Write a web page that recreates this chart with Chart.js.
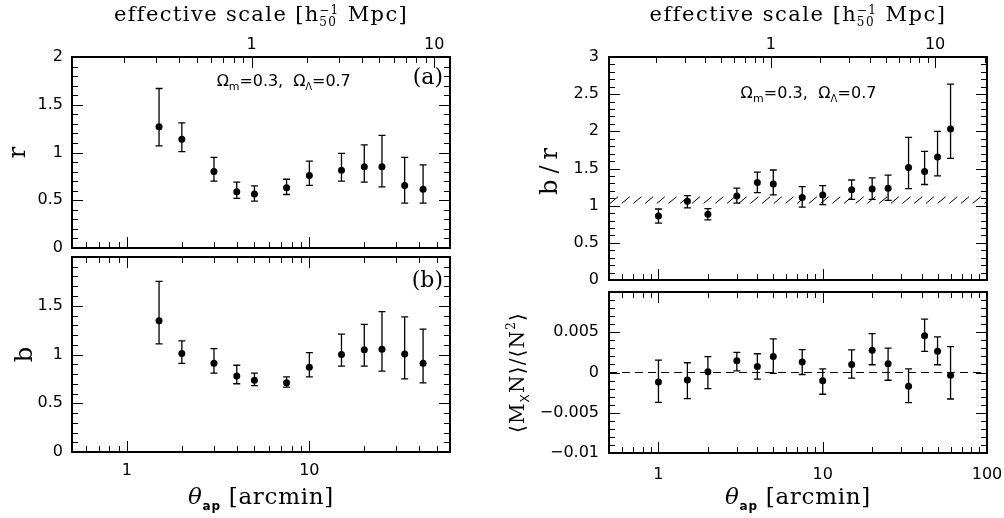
<!DOCTYPE html>
<html>
<head>
<meta charset="utf-8">
<script src="https://cdn.jsdelivr.net/npm/chart.js@4.4.1/dist/chart.umd.min.js"></script>
<style>
  body { margin: 0; background: #fff; width: 1004px; height: 518px; position: relative; overflow: hidden; }
  canvas { position: absolute; }
</style>
</head>
<body>
<canvas id="cTL" width="470" height="252" style="left:0;top:0"></canvas>
<canvas id="cBL" width="470" height="266" style="left:0;top:252px"></canvas>
<canvas id="cTR" width="504" height="284" style="left:500px;top:0"></canvas>
<canvas id="cBR" width="504" height="234" style="left:500px;top:284px"></canvas>
<script>
// aperture radii [arcmin]
const thetaL = [1.5, 2, 3, 4, 5, 7.5, 10, 15, 20, 25, 33.3, 42]
const thetaR = [1, 1.5, 2, 3, 4, 5, 7.5, 10, 15, 20, 25, 33.3, 41.7, 50, 60]

// (a) correlation coefficient r
const rVal = [1.27, 1.14, 0.80, 0.59, 0.565, 0.63, 0.76, 0.815, 0.85, 0.85, 0.655, 0.615]
const rLo  = [1.07, 1.01, 0.70, 0.52, 0.49, 0.56, 0.655, 0.70, 0.69, 0.64, 0.47, 0.47]
const rHi  = [1.67, 1.31, 0.95, 0.69, 0.65, 0.72, 0.91, 0.99, 1.08, 1.18, 0.95, 0.87]

// (b) bias b
const bVal = [1.345, 1.01, 0.91, 0.78, 0.735, 0.71, 0.87, 1.0, 1.05, 1.055, 1.005, 0.91]
const bLo  = [1.11, 0.91, 0.81, 0.70, 0.68, 0.665, 0.77, 0.88, 0.88, 0.83, 0.75, 0.71]
const bHi  = [1.75, 1.14, 1.06, 0.89, 0.81, 0.77, 1.02, 1.21, 1.31, 1.44, 1.385, 1.26]

// b/r
const brVal = [0.86, 1.06, 0.885, 1.13, 1.31, 1.29, 1.11, 1.145, 1.215, 1.225, 1.235, 1.515, 1.46, 1.655, 2.03]
const brLo  = [0.765, 0.97, 0.81, 1.035, 1.175, 1.145, 0.98, 1.015, 1.085, 1.085, 1.07, 1.23, 1.285, 1.40, 1.635]
const brHi  = [0.955, 1.135, 0.96, 1.235, 1.45, 1.48, 1.255, 1.27, 1.345, 1.375, 1.41, 1.92, 1.73, 2.0, 2.635]

// <M_x N>/<N^2>
const mxVal = [-0.00117, -0.00092, 0.00008, 0.00146, 0.00075, 0.002, 0.00129, -0.00104, 0.001, 0.00275, 0.00108, -0.0017, 0.00458, 0.00263, -0.00033]
const mxLo  = [-0.0037, -0.00325, -0.002, 0.0002, -0.00083, -0.0001, -0.00025, -0.0027, -0.0007, 0.00096, -0.00096, -0.00375, 0.00263, 0.00096, -0.00329]
const mxHi  = [0.00154, 0.00121, 0.00196, 0.0025, 0.00233, 0.00417, 0.00283, 0.00046, 0.0028, 0.00483, 0.00304, 0.00046, 0.00663, 0.00442, 0.00321]

const xRangeL = [0.5, 59]
const xRangeR = [0.5, 100]
const arcminPerMpc = 4.83      // top axis: effective scale = theta / 4.83
const band = [1.03, 1.12]      // hatched b/r band

const SERIF = '"DejaVu Serif", serif'
const SANS = '"DejaVu Sans", sans-serif'
const tickFont = { family: 'DejaVu Sans', size: 16 }

function fmt(v) {
  if (Math.abs(v) < 1e-12) return '0'
  return (v < 0 ? '\u2212' : '') + String(+Math.abs(v).toFixed(4))
}

function logTicks(min, max) {
  const out = []
  for (let e = Math.floor(Math.log10(min)); e <= Math.ceil(Math.log10(max)); e++) {
    for (let m = 1; m < 10; m++) {
      const v = +(m * Math.pow(10, e)).toPrecision(6)
      if (v >= min && v <= max) out.push({ value: v, major: m === 1 })
    }
  }
  return out
}

function linTicks(min, max, minor, major) {
  const out = []
  const n = Math.round((max - min) / minor)
  for (let k = 0; k <= n; k++) {
    const v = +(min + k * minor).toFixed(6)
    const q = v / major
    out.push({ value: v, major: Math.abs(q - Math.round(q)) < 1e-6 })
  }
  return out
}

function logAxis(pos, min, max, o) {
  return {
    type: 'logarithmic', position: pos, axis: 'x', min, max, both: !!o.both,
    grid: { display: false, drawTicks: false }, border: { display: false },
    ticks: {
      display: !!o.labels, autoSkip: false, maxRotation: 0, padding: o.pad || 0, font: tickFont, color: '#000',
      callback: v => Math.abs(Math.log10(v) - Math.round(Math.log10(v))) < 1e-6 ? fmt(v) : ''
    },
    afterBuildTicks: s => { s.ticks = logTicks(min, max) },
    afterFit: s => { s.height = o.h; s.paddingLeft = 0; s.paddingRight = 0 }
  }
}

function linAxis(min, max, minor, major, o) {
  return {
    type: 'linear', position: 'left', min, max,
    grid: { display: false, drawTicks: false }, border: { display: false },
    ticks: {
      autoSkip: false, padding: o.pad, font: tickFont, color: '#000',
      callback: v => {
        const q = v / major
        if (Math.abs(q - Math.round(q)) > 1e-6) return ''
        if (o.hideTop && Math.abs(v - max) < 1e-9) return ''
        return fmt(v)
      }
    },
    afterBuildTicks: s => { s.ticks = linTicks(min, max, minor, major) },
    afterFit: s => { s.width = o.w; s.paddingTop = 0; s.paddingBottom = 0 }
  }
}

// text with sub/superscripts; a part with stack:true sits over the previous one
function drawRich(ctx, parts, x, y, o = {}) {
  const measure = sp => {
    let cx = 0, px = 0, pw = 0, n = 0
    const items = parts.map(p => {
      ctx.font = p.font
      ctx.letterSpacing = '0px'
      const len = [...p.t].length
      const w = ctx.measureText(p.t).width + sp * len
      n += len
      let ix
      if (p.stack) { ix = px; pw = Math.max(pw, w); cx = px + pw }
      else { ix = cx; px = cx; pw = w; cx += w }
      return { p, x: ix }
    })
    return { items, width: cx, n }
  }
  let L = measure(0)
  let sp = 0
  if (o.width) { sp = (o.width - L.width) / L.n; L = measure(sp) }
  ctx.save()
  ctx.translate(x, y)
  if (o.rot) ctx.rotate(o.rot)
  ctx.fillStyle = '#000'
  ctx.textBaseline = 'alphabetic'
  ctx.textAlign = 'left'
  const x0 = o.align === 'right' ? -L.width : o.align === 'left' ? 0 : -L.width / 2
  for (const it of L.items) {
    ctx.font = it.p.font
    ctx.letterSpacing = sp + 'px'
    ctx.fillText(it.p.t, x0 + it.x, it.p.dy || 0)
  }
  ctx.restore()
}

const topTitle = [
  { t: 'effective scale [h', font: '21px ' + SERIF },
  { t: '\u22121', font: '12px ' + SERIF, dy: -7 },
  { t: '50', font: '12px ' + SERIF, dy: 5, stack: true },
  { t: ' Mpc]', font: '21px ' + SERIF }
]
const thetaTitle = [
  { t: '\u03b8', font: 'italic 23px ' + SERIF },
  { t: 'ap', font: 'bold 12px ' + SANS, dy: 6 },
  { t: ' [arcmin]', font: '23px ' + SERIF }
]
const omegaText = [
  { t: '\u03a9', font: '16px ' + SANS },
  { t: 'm', font: '11px ' + SANS, dy: 4 },
  { t: '=0.3,  \u03a9', font: '16px ' + SANS },
  { t: '\u039b', font: '10px ' + SANS, dy: 4 },
  { t: '=0.7', font: '16px ' + SANS }
]
const mxTitle = [
  { t: '\u27e8M', font: '20px ' + SERIF },
  { t: 'X', font: '12px ' + SANS, dy: 5 },
  { t: 'N\u27e9/\u27e8N', font: '20px ' + SERIF },
  { t: '2', font: '12px ' + SERIF, dy: -9 },
  { t: '\u27e9', font: '20px ' + SERIF }
]

// frame with inward ticks on all four sides
const frame = {
  id: 'frame',
  afterDatasetsDraw(chart) {
    const ctx = chart.ctx, a = chart.chartArea
    ctx.save()
    ctx.strokeStyle = '#000'
    ctx.lineWidth = 1
    ctx.beginPath()
    for (const s of Object.values(chart.scales)) {
      for (const t of s.ticks) {
        const p = Math.round(s.getPixelForValue(t.value)) + 0.5
        const L = t.major ? 11 : 6
        if (s.isHorizontal()) {
          if (p <= a.left + 1 || p >= a.right - 1) continue
          if (s.position === 'top' || s.options.both) { ctx.moveTo(p, a.top); ctx.lineTo(p, a.top + L) }
          if (s.position === 'bottom') { ctx.moveTo(p, a.bottom); ctx.lineTo(p, a.bottom - L) }
        } else {
          if (p <= a.top + 1 || p >= a.bottom - 1) continue
          ctx.moveTo(a.left, p); ctx.lineTo(a.left + L, p)
          ctx.moveTo(a.right, p); ctx.lineTo(a.right - L, p)
        }
      }
    }
    ctx.stroke()
    ctx.lineWidth = 2
    ctx.strokeRect(a.left, a.top, a.right - a.left, a.bottom - a.top)
    ctx.restore()
  }
}

const errBars = {
  id: 'errBars',
  beforeDatasetsDraw(chart) {
    const ctx = chart.ctx, xs = chart.scales.x, ys = chart.scales.y
    ctx.save()
    ctx.strokeStyle = '#000'
    ctx.lineWidth = 1.3
    chart.data.datasets.forEach(ds => {
      if (!ds.lo) return
      ds.data.forEach((pt, i) => {
        const x = xs.getPixelForValue(pt.x)
        const y1 = ys.getPixelForValue(ds.lo[i]), y2 = ys.getPixelForValue(ds.hi[i])
        ctx.beginPath()
        ctx.moveTo(x, y1); ctx.lineTo(x, y2)
        ctx.moveTo(x - 3.5, y1); ctx.lineTo(x + 3.5, y1)
        ctx.moveTo(x - 3.5, y2); ctx.lineTo(x + 3.5, y2)
        ctx.stroke()
      })
    })
    ctx.restore()
  }
}

const hatch = {
  id: 'hatch',
  beforeDatasetsDraw(chart) {
    const ctx = chart.ctx, a = chart.chartArea, ys = chart.scales.y
    const y1 = ys.getPixelForValue(band[0]), y2 = ys.getPixelForValue(band[1])
    ctx.save()
    ctx.beginPath()
    ctx.rect(a.left, a.top, a.right - a.left, a.bottom - a.top)
    ctx.clip()
    ctx.strokeStyle = '#000'
    ctx.lineWidth = 1
    ctx.beginPath()
    for (let x = a.left + 1; x < a.right; x += 11.7) { ctx.moveTo(x, y1); ctx.lineTo(x + 8, y2) }
    ctx.stroke()
    ctx.restore()
  }
}

const texts = fn => ({ id: 'texts', afterDraw(chart) { fn(chart.ctx, chart.chartArea) } })

function points(xs, ys, lo, hi) {
  return {
    data: xs.map((x, i) => ({ x, y: ys[i] })), lo, hi,
    pointRadius: 3.5, pointBackgroundColor: '#000', pointBorderWidth: 0, showLine: false
  }
}

function panel(id, datasets, scales, padding, extra) {
  return new Chart(document.getElementById(id), {
    type: 'scatter',
    data: { datasets },
    options: {
      responsive: false, animation: false, devicePixelRatio: 1,
      layout: { padding },
      plugins: { legend: { display: false }, tooltip: { enabled: false } },
      scales
    },
    plugins: [errBars, frame].concat(extra)
  })
}

// (a) r
panel('cTL', [points(thetaL, rVal, rLo, rHi)], {
  x: logAxis('bottom', xRangeL[0], xRangeL[1], { h: 2 }),
  x2: logAxis('top', xRangeL[0] / arcminPerMpc, xRangeL[1] / arcminPerMpc, { h: 57, labels: true, pad: 3 }),
  y: linAxis(0, 2, 0.1, 0.5, { w: 72, pad: 9 })
}, { left: 0, right: 20, top: 0, bottom: 0 }, [texts((ctx, a) => {
  drawRich(ctx, topTitle, (a.left + a.right) / 2, 21, { width: 297 })
  drawRich(ctx, [{ t: 'r', font: '24px ' + SERIF }], 25, (a.top + a.bottom) / 2, { rot: -Math.PI / 2 })
  drawRich(ctx, [{ t: '(a)', font: '22px ' + SERIF }], a.right - 7, a.top + 27, { align: 'right' })
  drawRich(ctx, omegaText, a.left + 0.56 * (a.right - a.left), a.top + 29, { width: 134 })
})])

// (b) b
panel('cBL', [points(thetaL, bVal, bLo, bHi)], {
  x: logAxis('bottom', xRangeL[0], xRangeL[1], { h: 66, labels: true, pad: 9, both: true }),
  y: linAxis(0, 2, 0.1, 0.5, { w: 72, pad: 9, hideTop: true })
}, { left: 0, right: 20, top: 5, bottom: 0 }, [texts((ctx, a) => {
  drawRich(ctx, [{ t: 'b', font: '24px ' + SERIF }], 32, (a.top + a.bottom) / 2, { rot: -Math.PI / 2 })
  drawRich(ctx, [{ t: '(b)', font: '22px ' + SERIF }], a.right - 7, a.top + 30, { align: 'right' })
  drawRich(ctx, thetaTitle, (a.left + a.right) / 2, a.bottom + 52, { width: 146 })
})])

// b/r
panel('cTR', [points(thetaR, brVal, brLo, brHi)], {
  x: logAxis('bottom', xRangeR[0], xRangeR[1], { h: 1 }),
  x2: logAxis('top', xRangeR[0] / arcminPerMpc, xRangeR[1] / arcminPerMpc, { h: 57, labels: true, pad: 3 }),
  y: linAxis(0, 3, 0.1, 0.5, { w: 109, pad: 10 })
}, { left: 0, right: 17, top: 0, bottom: 0 }, [hatch, texts((ctx, a) => {
  drawRich(ctx, topTitle, (a.left + a.right) / 2, 21, { width: 300 })
  drawRich(ctx, [{ t: 'b/r', font: '24px ' + SERIF }], 57, (a.top + a.bottom) / 2, { rot: -Math.PI / 2, width: 53 })
  drawRich(ctx, omegaText, a.left + 0.528 * (a.right - a.left), a.top + 41, { width: 136 })
})])

// <M_x N>/<N^2>
const zeroLine = {
  data: xRangeR.map(x => ({ x, y: 0 })), showLine: true, pointRadius: 0,
  borderColor: '#000', borderWidth: 1, borderDash: [8, 5]
}
panel('cBR', [zeroLine, points(thetaR, mxVal, mxLo, mxHi)], {
  x: logAxis('bottom', xRangeR[0], xRangeR[1], { h: 65, labels: true, pad: 12, both: true }),
  y: linAxis(-0.01, 0.01, 0.001, 0.005, { w: 109, pad: 10, hideTop: true })
}, { left: 0, right: 17, top: 8, bottom: 0 }, [texts((ctx, a) => {
  drawRich(ctx, mxTitle, 24, (a.top + a.bottom) / 2, { rot: -Math.PI / 2, width: 121 })
  drawRich(ctx, thetaTitle, (a.left + a.right) / 2, a.bottom + 51, { width: 146 })
})])
</script>
</body>
</html>
